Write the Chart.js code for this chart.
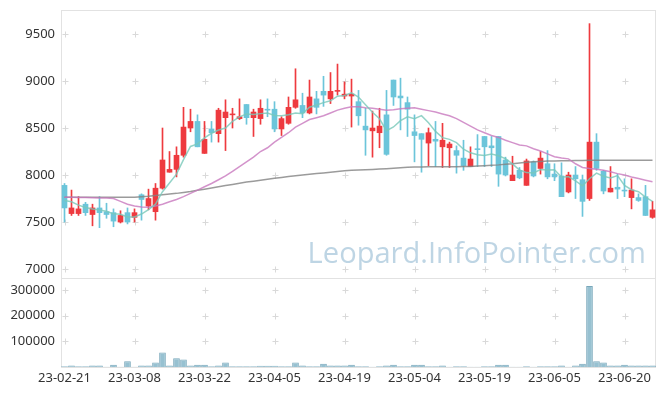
<!DOCTYPE html>
<html>
<head>
<meta charset="utf-8">
<script src="https://cdn.jsdelivr.net/npm/chart.js@4.4.0/dist/chart.umd.min.js"></script>
<style>
html, body { margin: 0; padding: 0; background: #fff; }
#wrap { position: relative; width: 665px; height: 396px; }
#price { position: absolute; left: 0; top: 0; }
#vol { position: absolute; left: 0; top: 278px; }
</style>
</head>
<body>
<div id="wrap">
  <canvas id="price" width="665" height="279"></canvas>
  <canvas id="vol" width="665" height="118"></canvas>
</div>
<script>
const dates = ['23-02-21','23-02-22','23-02-23','23-02-24','23-02-27','23-02-28','23-03-02','23-03-03','23-03-06','23-03-07',
  '23-03-08','23-03-09','23-03-10','23-03-13','23-03-14','23-03-15','23-03-16','23-03-17','23-03-20','23-03-21',
  '23-03-22','23-03-23','23-03-24','23-03-27','23-03-28','23-03-29','23-03-30','23-03-31','23-04-03','23-04-04',
  '23-04-05','23-04-06','23-04-07','23-04-10','23-04-11','23-04-12','23-04-13','23-04-14','23-04-17','23-04-18',
  '23-04-19','23-04-20','23-04-21','23-04-24','23-04-25','23-04-26','23-04-27','23-04-28','23-05-02','23-05-03',
  '23-05-04','23-05-08','23-05-09','23-05-10','23-05-11','23-05-12','23-05-15','23-05-16','23-05-17','23-05-18',
  '23-05-19','23-05-22','23-05-23','23-05-24','23-05-25','23-05-26','23-05-30','23-05-31','23-06-01','23-06-02',
  '23-06-05','23-06-07','23-06-08','23-06-09','23-06-12','23-06-13','23-06-14','23-06-15','23-06-16','23-06-19',
  '23-06-20','23-06-21','23-06-22','23-06-23','23-06-26'];

const openP = [7890,7590,7590,7690,7580,7650,7610,7600,7500,7600, 7550,7790,7670,7610,7860,8030,8060,8210,8500,8570,
  8230,8490,8440,8610,8640,8600,8750,8610,8600,8700, 8700,8490,8550,8720,8740,8660,8810,8890,8810,8890,
  8840,8840,8780,8520,8470,8450,8640,9010,8840,8770, 8460,8440,8340,8380,8300,8290,8260,8180,8090,8280,
  8410,8310,8410,8160,7940,8050,7890,8140,8070,8120, 8010,7990,7820,8000,7950,7750,8350,8040,7820,7870,
  7840,7760,7760,7770,7550];
const highP = [7910,7840,7770,7710,7690,7770,7700,7640,7620,7650, 7640,7800,7850,7910,8500,8250,8300,8720,8700,8640,
  8570,8570,8710,8800,8710,8810,8750,8700,8800,8810, 8780,8620,8830,9130,8870,9010,8890,9050,9090,9180,
  8990,9020,8900,8710,8680,8710,8900,9010,9030,8830, 8640,8440,8500,8570,8550,8350,8310,8370,8300,8430,
  8410,8410,8410,8190,8200,8080,8170,8150,8250,8260, 8120,8130,8030,8090,8000,9610,8440,8050,8090,8010,
  7960,7960,7800,7890,7720];
const lowP = [7500,7570,7570,7570,7460,7440,7540,7450,7490,7480, 7500,7520,7630,7520,7850,8030,7980,8190,8460,8300,
  8230,8350,8350,8260,8500,8590,8540,8410,8540,8620, 8460,8420,8540,8710,8610,8650,8650,8730,8760,8850,
  8810,8510,8530,8210,8190,8290,8210,8740,8480,8410, 8140,8030,8100,8090,8080,8080,8020,8050,8090,8090,
  8090,8090,7880,7990,7940,7960,7890,7980,8010,7960, 7940,7770,7810,7750,7560,7730,8050,7800,7820,7750,
  7770,7640,7720,7570,7540];
const closeP = [7650,7650,7640,7600,7650,7600,7580,7510,7570,7500, 7600,7740,7750,7860,8160,8060,8210,8510,8570,8300,
  8380,8450,8690,8670,8650,8620,8610,8670,8710,8690, 8490,8600,8720,8800,8660,8830,8720,8850,8890,8900,
  8860,8860,8630,8480,8500,8520,8220,8830,8820,8700, 8420,8380,8450,8360,8370,8330,8210,8100,8170,8270,
  8300,8290,8010,8000,8000,7970,8150,7990,8180,7980, 7980,7770,8000,7960,7720,8350,8070,7830,7860,7850,
  7830,7840,7730,7570,7630];
const volume = [2500,6000,2500,2500,6000,6000,800,9000,800,22000, 800,6000,6000,18000,57000,6000,34000,29000,6000,9000,
  9000,2500,6000,18000,2500,2500,2500,2500,5000,5000, 5000,2500,2500,18000,6000,2500,2500,13000,6000,6000,
  6000,9000,2500,2500,500,2500,6000,9000,2500,2500, 9000,9000,2500,2500,6000,500,2500,2500,500,500,
  2500,2500,9000,9000,500,500,2500,500,2500,2500, 2500,6000,500,6000,13000,316000,22000,18000,6000,6000,
  9000,6000,6000,6000,6000];
const ma5 = [7730,7715,7680,7655,7638,7628,7614,7587,7583,7553, 7554,7585,7633,7690,7823,7915,8009,8163,8304,8331,
  8395,8444,8479,8500,8571,8618,8650,8645,8653,8660, 8633,8631,8642,8660,8653,8721,8744,8770,8789,8839,
  8846,8874,8830,8747,8667,8598,8471,8511,8579,8620, 8600,8632,8556,8464,8398,8379,8345,8275,8236,8215,
  8209,8224,8206,8173,8119,8053,8026,8022,8058,8054, 8056,7980,7982,7938,7886,7960,8021,7987,7968,7994,
  7890,7844,7823,7766,7721];
const ma20 = [7765,7763,7762,7760,7758,7757,7755,7750,7720,7690, 7670,7660,7658,7670,7690,7715,7740,7770,7805,7840,
  7875,7910,7950,7990,8040,8090,8140,8190,8250,8290, 8350,8400,8450,8510,8550,8590,8610,8630,8660,8690,
  8710,8725,8725,8715,8710,8700,8690,8695,8705,8710, 8715,8700,8685,8670,8650,8630,8600,8560,8520,8480,
  8450,8420,8400,8370,8345,8320,8310,8280,8255,8225, 8195,8180,8172,8120,8080,8070,8062,8050,8035,8015,
  8000,7980,7963,7945,7928];
const ma60 = [7765,7765,7764,7764,7763,7763,7763,7763,7763,7764, 7765,7770,7775,7782,7790,7798,7805,7815,7825,7838,
  7850,7862,7875,7888,7900,7912,7925,7935,7945,7955, 7965,7975,7985,7993,8000,8008,8015,8022,8030,8038,
  8045,8050,8053,8057,8060,8064,8068,8073,8078,8082, 8085,8086,8087,8088,8088,8088,8088,8090,8092,8096,
  8100,8104,8108,8114,8120,8128,8135,8140,8145,8148, 8150,8152,8153,8154,8155,8157,8158,8158,8158,8158,
  8158,8158,8157,8157,8157];
const priceTicks = [7000,7500,8000,8500,9000,9500];
const volTicks = [100000,200000,300000];

const RED = '#ee3a3f';
const BLUE = '#6cc5da';
const candleColors = closeP.map((c, i) => c >= openP[i] ? RED : BLUE);
const labelIdx = dates.map((d, i) => i).filter(i => i % 10 === 0);
const tickFont = { family: "'Noto Sans', sans-serif", size: 13 };

// light "+" marks on the grid crossings plus the panel frame
const gridMarks = {
  id: 'gridMarks',
  beforeDatasetsDraw(chart) {
    const { ctx, chartArea: a, scales } = chart;
    const ys = chart.options.plugins.gridMarks.ticks.map(v => scales.y.getPixelForValue(v));
    ctx.save();
    ctx.strokeStyle = '#e2e2e2';
    ctx.lineWidth = 1;
    ctx.strokeRect(a.left + 0.5, a.top + 0.5, a.right - a.left - 1, a.bottom - a.top);
    ctx.strokeStyle = '#d9d9d9';
    labelIdx.forEach(i => {
      const x = Math.round(scales.x.getPixelForValue(i)) + 0.5;
      ys.forEach(y0 => {
        const y = Math.round(y0) + 0.5;
        ctx.beginPath();
        ctx.moveTo(x - 3, y); ctx.lineTo(x + 3, y);
        ctx.moveTo(x, y - 3); ctx.lineTo(x, y + 3);
        ctx.stroke();
      });
    });
    const wm = chart.options.plugins.gridMarks.watermark;
    if (wm) {
      ctx.font = "30px 'Open Sans', sans-serif";
      const w = ctx.measureText(wm).width;
      ctx.font = (30 * 338 / w).toFixed(1) + "px 'Open Sans', sans-serif";
      ctx.fillStyle = 'rgba(150,188,212,0.62)';
      ctx.textAlign = 'right';
      ctx.textBaseline = 'alphabetic';
      ctx.fillText(wm, a.right - 10, 263);
    }
    ctx.restore();
  }
};

const noPad = s => { s.paddingTop = 0; s.paddingBottom = 0; };

new Chart(document.getElementById('price'), {
  type: 'bar',
  data: {
    labels: dates,
    datasets: [
      { type: 'line', data: ma5, borderColor: 'rgba(120,200,185,0.8)', borderWidth: 1.5, pointRadius: 0, order: 0 },
      { type: 'line', data: ma20, borderColor: 'rgba(200,120,190,0.8)', borderWidth: 1.5, pointRadius: 0, order: 0 },
      { type: 'line', data: ma60, borderColor: 'rgba(130,130,130,0.8)', borderWidth: 1.5, pointRadius: 0, order: 0 },
      { data: openP.map((o, i) => [o, closeP[i]]), backgroundColor: candleColors, barThickness: 5, grouped: false, order: 1 },
      { data: lowP.map((l, i) => [l, highP[i]]), backgroundColor: candleColors, barThickness: 1, grouped: false, order: 2 }
    ]
  },
  options: {
    responsive: false,
    animation: false,
    layout: { padding: { top: 10, right: 9, bottom: 1, left: 0 } },
    plugins: {
      legend: { display: false },
      tooltip: { enabled: false },
      gridMarks: { ticks: priceTicks, watermark: 'Leopard.InfoPointer.com' }
    },
    scales: {
      x: { display: false, offset: true },
      y: {
        min: 6905, max: 9755,
        afterBuildTicks: s => { s.ticks = priceTicks.map(v => ({ value: v })); },
        afterFit: s => { s.width = 61; noPad(s); },
        grid: { display: false, drawTicks: false },
        border: { display: false },
        ticks: { font: tickFont, color: '#333', padding: 6, callback: v => String(v) }
      }
    }
  },
  plugins: [gridMarks]
});

new Chart(document.getElementById('vol'), {
  type: 'bar',
  data: {
    labels: dates,
    datasets: [{
      data: volume,
      backgroundColor: '#97c1d1',
      borderColor: '#78a7ba',
      borderWidth: 1,
      barPercentage: 0.95,
      categoryPercentage: 1
    }]
  },
  options: {
    responsive: false,
    animation: false,
    layout: { padding: { top: 0, right: 9, bottom: 0, left: 0 } },
    plugins: {
      legend: { display: false },
      tooltip: { enabled: false },
      gridMarks: { ticks: volTicks }
    },
    scales: {
      x: {
        offset: true,
        afterBuildTicks: s => { s.ticks = labelIdx.map(i => ({ value: i })); },
        afterFit: s => { s.height = 29; },
        grid: { display: false, drawTicks: false },
        border: { display: false },
        ticks: { font: tickFont, color: '#333', maxRotation: 0, autoSkip: false, padding: 3 }
      },
      y: {
        min: 0, max: 347600,
        afterBuildTicks: s => { s.ticks = volTicks.map(v => ({ value: v })); },
        afterFit: s => { s.width = 61; noPad(s); },
        grid: { display: false, drawTicks: false },
        border: { display: false },
        ticks: { font: tickFont, color: '#333', padding: 6, callback: v => String(v) }
      }
    }
  },
  plugins: [gridMarks]
});
</script>
</body>
</html>
